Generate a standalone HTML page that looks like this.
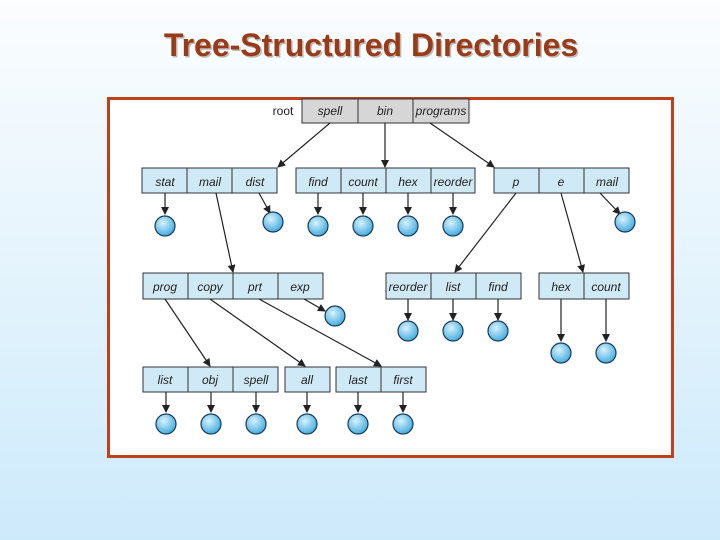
<!DOCTYPE html>
<html><head><style>
body{margin:0;width:720px;height:540px;overflow:hidden;background:linear-gradient(#fbfdfe,#cdeafb);font-family:"Liberation Sans",sans-serif}
</style></head><body>
<svg width="720" height="540" xmlns="http://www.w3.org/2000/svg" style="position:absolute;left:0;top:0">
<defs>
<marker id="a" markerWidth="8" markerHeight="8" refX="7" refY="4" orient="auto" markerUnits="userSpaceOnUse"><path d="M0,0 L8,4 L0,8 z" fill="#222"/></marker>
<radialGradient id="g" cx="0.4" cy="0.35" r="0.7"><stop offset="0" stop-color="#d8f2ff"/><stop offset="1" stop-color="#3aa8dc"/></radialGradient>
</defs>
<text x="371" y="56" text-anchor="middle" font-size="32" font-weight="bold" fill="#bbb" transform="translate(1.5,1.5)">Tree-Structured Directories</text>
<text x="371" y="56" text-anchor="middle" font-size="32" font-weight="bold" fill="#9a3a16">Tree-Structured Directories</text>
<rect x="108.5" y="98.5" width="564" height="358" fill="#fff" stroke="#c0401a" stroke-width="3"/>
<g font-size="12" font-style="italic" fill="#222" text-anchor="middle" stroke="#333" stroke-width="1">
<text x="283" y="115" font-style="normal" stroke="none">root</text>
<rect x="302" y="99" width="56" height="24" fill="#d6d6d6"/><rect x="358" y="99" width="55" height="24" fill="#d6d6d6"/><rect x="413" y="99" width="56" height="24" fill="#d6d6d6"/>
<g fill="#cfe9f6">
<rect x="142" y="168" width="45" height="25"/><rect x="187" y="168" width="45" height="25"/><rect x="232" y="168" width="45" height="25"/>
<rect x="296" y="168" width="45" height="25"/><rect x="341" y="168" width="45" height="25"/><rect x="386" y="168" width="45" height="25"/><rect x="431" y="168" width="44" height="25"/>
<rect x="494" y="168" width="45" height="25"/><rect x="539" y="168" width="45" height="25"/><rect x="584" y="168" width="45" height="25"/>
<rect x="143" y="273" width="45" height="26"/><rect x="188" y="273" width="45" height="26"/><rect x="233" y="273" width="45" height="26"/><rect x="278" y="273" width="45" height="26"/>
<rect x="386" y="273" width="45" height="26"/><rect x="431" y="273" width="45" height="26"/><rect x="476" y="273" width="45" height="26"/>
<rect x="539" y="273" width="45" height="26"/><rect x="584" y="273" width="45" height="26"/>
<rect x="143" y="367" width="45" height="25"/><rect x="188" y="367" width="45" height="25"/><rect x="233" y="367" width="45" height="25"/>
<rect x="285" y="367" width="45" height="25"/><rect x="336" y="367" width="45" height="25"/><rect x="381" y="367" width="45" height="25"/>
</g>
<g stroke="none">
<text x="330" y="115">spell</text><text x="385" y="115">bin</text><text x="441" y="115">programs</text>
<text x="165" y="186">stat</text><text x="210" y="186">mail</text><text x="255" y="186">dist</text>
<text x="318" y="186">find</text><text x="363" y="186">count</text><text x="408" y="186">hex</text><text x="453" y="186">reorder</text>
<text x="516" y="186">p</text><text x="561" y="186">e</text><text x="607" y="186">mail</text>
<text x="165" y="291">prog</text><text x="210" y="291">copy</text><text x="255" y="291">prt</text><text x="300" y="291">exp</text>
<text x="408" y="291">reorder</text><text x="453" y="291">list</text><text x="498" y="291">find</text>
<text x="561" y="291">hex</text><text x="606" y="291">count</text>
<text x="165" y="384">list</text><text x="210" y="384">obj</text><text x="256" y="384">spell</text>
<text x="307" y="384">all</text><text x="358" y="384">last</text><text x="403" y="384">first</text>
</g>
</g>
<g stroke="#222" stroke-width="1.2" marker-end="url(#a)">
<line x1="330" y1="123" x2="278" y2="167"/><line x1="385" y1="123" x2="385" y2="167"/><line x1="430" y1="123" x2="494" y2="167"/>
<line x1="165" y1="193" x2="165" y2="214"/><line x1="259" y1="193" x2="270" y2="213"/>
<line x1="318" y1="193" x2="318" y2="214"/><line x1="363" y1="193" x2="363" y2="214"/><line x1="408" y1="193" x2="408" y2="214"/><line x1="453" y1="193" x2="453" y2="214"/>
<line x1="600" y1="193" x2="620" y2="214"/>
<line x1="216" y1="193" x2="233" y2="272"/><line x1="516" y1="193" x2="455" y2="272"/><line x1="561" y1="193" x2="583" y2="272"/>
<line x1="304" y1="299" x2="325" y2="311"/>
<line x1="408" y1="299" x2="408" y2="320"/><line x1="453" y1="299" x2="453" y2="320"/><line x1="498" y1="299" x2="498" y2="320"/>
<line x1="561" y1="299" x2="561" y2="341"/><line x1="606" y1="299" x2="606" y2="341"/>
<line x1="165" y1="299" x2="210" y2="366"/><line x1="210" y1="299" x2="305" y2="366"/><line x1="259" y1="299" x2="381" y2="366"/>
<line x1="166" y1="392" x2="166" y2="412"/><line x1="211" y1="392" x2="211" y2="412"/><line x1="256" y1="392" x2="256" y2="412"/>
<line x1="307" y1="392" x2="307" y2="412"/><line x1="358" y1="392" x2="358" y2="412"/><line x1="403" y1="392" x2="403" y2="412"/>
</g>
<g fill="url(#g)" stroke="#1a3a55" stroke-width="1.2">
<circle cx="165" cy="226" r="10"/><circle cx="273" cy="222" r="10"/><circle cx="318" cy="226" r="10"/><circle cx="363" cy="226" r="10"/><circle cx="408" cy="226" r="10"/><circle cx="453" cy="226" r="10"/><circle cx="625" cy="222" r="10"/>
<circle cx="335" cy="316" r="10"/><circle cx="408" cy="331" r="10"/><circle cx="453" cy="331" r="10"/><circle cx="498" cy="331" r="10"/>
<circle cx="561" cy="353" r="10"/><circle cx="606" cy="353" r="10"/>
<circle cx="166" cy="424" r="10"/><circle cx="211" cy="424" r="10"/><circle cx="256" cy="424" r="10"/><circle cx="307" cy="424" r="10"/><circle cx="358" cy="424" r="10"/><circle cx="403" cy="424" r="10"/>
</g>
</svg>
</body></html>
